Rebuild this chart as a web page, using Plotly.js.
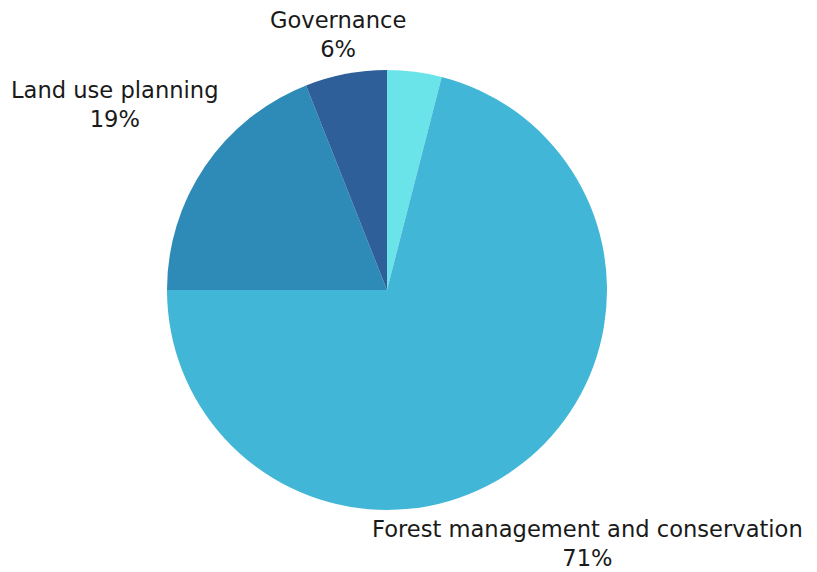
<!DOCTYPE html>
<html>
<head>
<meta charset="utf-8">
<script src="https://cdn.plot.ly/plotly-3.0.1.min.js"></script>
<style>html,body{margin:0;padding:0;background:#fff;}#chart{width:817px;height:572px;}</style>
</head>
<body>
<div id="chart"></div>
<script>
var categories = ["Other", "Forest management and conservation", "Land use planning", "Governance"];
var values = [4, 71, 19, 6];
var percentLabels = ["", "71%", "19%", "6%"];
var colors = ["#6AE4E9", "#42B6D6", "#2E8BB8", "#2E5F98"];

// label block centres (figure pixels) for the shown labels
var labelPos = [null, [587, 543], [115, 105], [338, 34]];

var W = 817, H = 572;
var annotations = [];
for (var i = 0; i < categories.length; i++) {
  if (!labelPos[i] || !percentLabels[i]) continue;
  annotations.push({
    xref: "paper", yref: "paper",
    x: labelPos[i][0] / W, y: 1 - labelPos[i][1] / H,
    xanchor: "center", yanchor: "middle",
    text: categories[i] + "<br>" + percentLabels[i],
    showarrow: false,
    align: "center",
    font: {family: "DejaVu Sans", size: 22.6, color: "#1a1a1a"}
  });
}

Plotly.newPlot("chart", [{
  type: "pie",
  labels: categories,
  values: values,
  textinfo: "none",
  sort: false,
  direction: "clockwise",
  rotation: 0,
  domain: {x: [0, 774 / W], y: [62 / H, 1 - 70 / H]},
  marker: {colors: colors, line: {width: 0}},
  hoverinfo: "label+percent",
  showlegend: false
}], {
  width: W, height: H,
  margin: {l: 0, r: 0, t: 0, b: 0},
  paper_bgcolor: "#fff",
  showlegend: false,
  annotations: annotations
}, {displayModeBar: false});
</script>
</body>
</html>
